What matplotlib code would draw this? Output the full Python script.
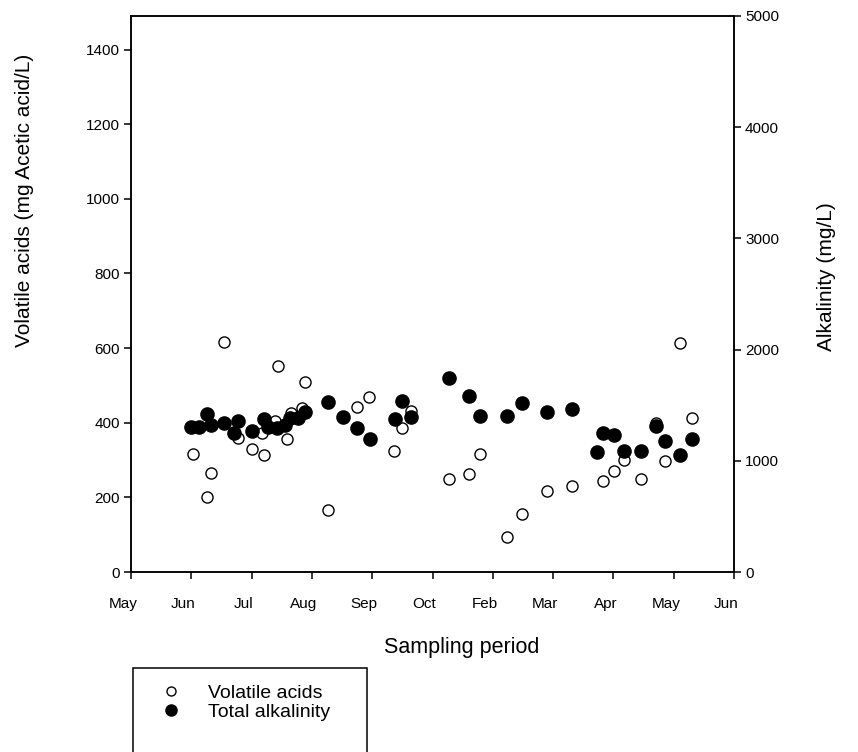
import matplotlib
matplotlib.use("Agg")
import matplotlib.pyplot as plt
import matplotlib.transforms as mtransforms
from matplotlib.lines import Line2D
from matplotlib.patches import Rectangle

plt.rcParams["font.family"] = ["Liberation Sans", "DejaVu Sans"]

# sampling months on the x axis (position = index)
months = ["May", "Jun", "Jul", "Aug", "Sep", "Oct", "Feb", "Mar", "Apr", "May", "Jun"]

# volatile acids (mg acetic acid/L) -- x in month-index units
va_x = [1.02, 1.26, 1.32, 1.54, 1.77, 2.00, 2.17, 2.21, 2.39, 2.43, 2.59, 2.66,
        2.83, 2.89, 3.27, 3.74, 3.95, 4.36, 4.49, 4.64, 5.28, 5.61, 5.78, 6.23,
        6.48, 6.90, 7.31, 7.82, 8.01, 8.18, 8.45, 8.70, 8.86, 9.10, 9.30]
va_y = [315, 202, 266, 617, 358, 329, 372, 314, 405, 552, 356, 425,
        439, 508, 166, 441, 468, 324, 385, 432, 249, 263, 315, 95,
        155, 218, 231, 245, 271, 300, 249, 399, 297, 613, 412]

# total alkalinity (mg/L)
alk_x = [1.00, 1.12, 1.26, 1.33, 1.54, 1.71, 1.77, 2.01, 2.21, 2.27, 2.42, 2.55,
         2.64, 2.77, 2.89, 3.27, 3.52, 3.74, 3.96, 4.38, 4.49, 4.64, 5.27, 5.61,
         5.78, 6.23, 6.48, 6.90, 7.31, 7.72, 7.82, 8.01, 8.18, 8.45, 8.70, 8.86,
         9.10, 9.30]
alk_y = [1306, 1306, 1418, 1322, 1337, 1252, 1360, 1268, 1373, 1304, 1292, 1322,
         1384, 1382, 1438, 1531, 1391, 1292, 1193, 1380, 1540, 1396, 1741, 1585,
         1405, 1405, 1522, 1441, 1463, 1082, 1247, 1232, 1088, 1088, 1313, 1180,
         1052, 1193]

W, H = 858, 752
fig = plt.figure(figsize=(W / 100, H / 100), dpi=100)
ax = fig.add_axes([131 / W, 1 - 572 / H, 603 / W, 556 / H])
ax2 = ax.twinx()

ax.plot(va_x, va_y, "o", ls="none", ms=8, mfc="white", mec="black", mew=1.0,
        zorder=3, clip_on=False)
ax2.plot(alk_x, alk_y, "o", ls="none", ms=9.5, mfc="black", mec="black",
         zorder=3, clip_on=False)

ax.set_xlim(0, 10)
ax.set_ylim(0, 1490)
ax2.set_ylim(0, 5000)
ax.set_xticks(range(len(months)))
ax.set_xticklabels(months)
ax.set_yticks(range(0, 1401, 200))
ax2.set_yticks(range(0, 5001, 1000))

for a in (ax, ax2):
    for s in a.spines.values():
        s.set_linewidth(1.1)
    a.tick_params(direction="out", length=5, width=1.1, labelsize=11, pad=3)
ax.tick_params(axis="x", pad=13)

# x tick labels sit slightly left of their ticks
shift = mtransforms.ScaledTranslation(-8 / 100, 0, fig.dpi_scale_trans)
for lbl in ax.get_xticklabels():
    lbl.set_transform(lbl.get_transform() + shift)

fig.text(25 / W, 1 - 200 / H, "Volatile acids (mg Acetic acid/L)", rotation=90,
         ha="center", va="center", fontsize=15)
fig.text(826 / W, 1 - 277 / H, "Alkalinity (mg/L)", rotation=90,
         ha="center", va="center", fontsize=15)
fig.text(462 / W, 1 - 648 / H, "Sampling period", ha="center", va="center",
         fontsize=15.5)

# legend box below the plot, open at the bottom edge
fig.add_artist(Rectangle((133 / W, -0.02), (367 - 133) / W, (752 - 668) / H + 0.02,
                         transform=fig.transFigure, fill=False, lw=1.1,
                         clip_on=False))
handles = [
    Line2D([], [], marker="o", ls="none", ms=6.5, mfc="white", mec="black", mew=1.0),
    Line2D([], [], marker="o", ls="none", ms=8, mfc="black", mec="black"),
]
fig.legend(handles, ["Volatile acids", "Total alkalinity"], loc="upper left",
           bbox_to_anchor=(161 / W, 1 - 684 / H), frameon=False, fontsize=14,
           handlelength=1.0, handletextpad=1.4, labelspacing=0.1,
           borderpad=0, borderaxespad=0)

fig.savefig("out.png", dpi=100)
